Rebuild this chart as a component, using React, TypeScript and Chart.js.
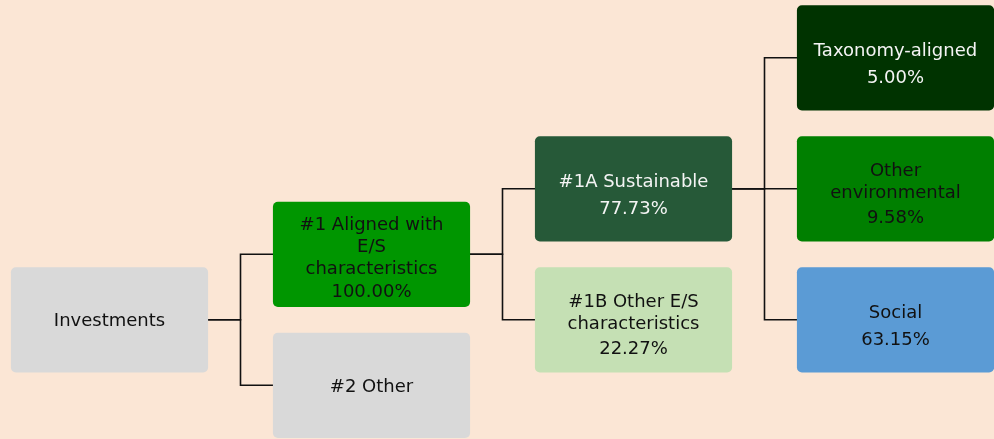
import React, { useEffect, useRef } from "react";
import { Chart, registerables } from "chart.js";

Chart.register(...registerables);

// ---- Data ----
const nodeLabels: string[][] = [
  ["Investments"],
  ["#1 Aligned with", "E/S", "characteristics"],
  ["#2 Other"],
  ["#1A Sustainable"],
  ["#1B Other E/S", "characteristics"],
  ["Taxonomy-aligned"],
  ["Other", "environmental"],
  ["Social"],
];
const nodeShares: (number | null)[] = [null, 100.0, null, 77.73, 22.27, 5.0, 9.58, 63.15];
const nodeLevels: number[] = [0, 1, 1, 2, 2, 3, 3, 3];
const nodeRows: number[] = [2, 1.5, 2.5, 1, 2, 0, 1, 2];
const nodeParents: number[] = [-1, 0, 0, 1, 1, 3, 3, 3];
const nodeColors: string[] = [
  "#d9d9d9",
  "#009600",
  "#d9d9d9",
  "#265938",
  "#c5e0b4",
  "#003300",
  "#007f00",
  "#5b9bd5",
];
const nodeTextColors: string[] = [
  "#111111",
  "#111111",
  "#111111",
  "#f4f4f4",
  "#111111",
  "#f4f4f4",
  "#111111",
  "#111111",
];

// ---- Layout constants (styles) ----
const W = 994;
const H = 439;
const BG = "#fbe6d5";
const HALF_W = 0.375; // box half width in level units
const COL_PITCH = 262;
const COL0 = 109.5;
const ROW_PITCH = 131;
const ROW0 = 57.8;
const BOX_H = 104.5;

export default function App() {
  const ref = useRef<HTMLCanvasElement | null>(null);

  useEffect(() => {
    document.body.style.margin = "0";
    document.body.style.background = BG;
    const canvas = ref.current;
    if (!canvas) return;

    const boxData = nodeLevels.map((lv, i) => ({
      x: [lv - HALF_W, lv + HALF_W],
      y: nodeRows[i],
    }));

    const edgeSets = nodeParents
      .map((p, i) => ({ p, i }))
      .filter((e) => e.p >= 0)
      .map(({ p, i }) => {
        const px = nodeLevels[p] + HALF_W;
        const mid = (nodeLevels[p] + nodeLevels[i]) / 2;
        const cx = nodeLevels[i] - HALF_W;
        return {
          type: "line" as const,
          data: [
            { x: px, y: nodeRows[p] },
            { x: mid, y: nodeRows[p] },
            { x: mid, y: nodeRows[i] },
            { x: cx, y: nodeRows[i] },
          ],
          borderColor: "#111111",
          borderWidth: 1.6,
          pointRadius: 0,
          fill: false,
          tension: 0,
          xAxisID: "x",
          yAxisID: "y",
        };
      });

    const bgPlugin = {
      id: "bg",
      beforeDraw(chart: any) {
        const c = chart.ctx;
        c.save();
        c.fillStyle = BG;
        c.fillRect(0, 0, chart.width, chart.height);
        c.restore();
      },
    };

    const textPlugin = {
      id: "nodeText",
      afterDatasetsDraw(chart: any) {
        const meta = chart.getDatasetMeta(0);
        const c = chart.ctx;
        c.save();
        c.font = '18px "DejaVu Sans"';
        c.textAlign = "center";
        c.textBaseline = "alphabetic";
        meta.data.forEach((el: any, i: number) => {
          const pt = el.getCenterPoint();
          const cx = pt.x;
          const cy = pt.y;
          const labels = nodeLabels[i];
          const share = nodeShares[i];
          const lines = share === null ? labels.slice() : [...labels, share.toFixed(2) + "%"];
          const n = lines.length;
          c.fillStyle = nodeTextColors[i];
          if (n === 1) {
            c.fillText(lines[0], cx, cy + 6.3);
            return;
          }
          labels.forEach((t, k) => {
            c.fillText(t, cx, cy + 8.7 - 11 * (n - 1) + 22 * k);
          });
          if (share !== null) {
            c.fillText(lines[n - 1], cx, cy + 25.5 + 8.75 * (n - 2));
          }
        });
        c.restore();
      },
    };

    const chart = new Chart(canvas, {
      type: "bar",
      data: {
        datasets: [
          {
            type: "bar",
            indexAxis: "y",
            data: boxData as any,
            backgroundColor: nodeColors,
            borderWidth: 0,
            borderRadius: 5,
            borderSkipped: false,
            barThickness: BOX_H,
            xAxisID: "x",
            yAxisID: "y",
          } as any,
          ...(edgeSets as any[]),
        ],
      },
      options: {
        responsive: false,
        animation: false,
        devicePixelRatio: 1,
        events: [],
        layout: { padding: 0 },
        plugins: {
          legend: { display: false },
          tooltip: { enabled: false },
        },
        scales: {
          x: {
            type: "linear",
            display: false,
            offset: false,
            grace: 0,
            grid: { offset: false },
            min: -COL0 / COL_PITCH,
            max: (W - COL0) / COL_PITCH,
          },
          y: {
            type: "linear",
            display: false,
            offset: false,
            grace: 0,
            grid: { offset: false },
            reverse: true,
            min: -ROW0 / ROW_PITCH,
            max: (H - ROW0) / ROW_PITCH,
          },
        },
      } as any,
      plugins: [bgPlugin, textPlugin],
    });

    return () => chart.destroy();
  }, []);

  return (
    <div style={{ width: W, height: H, background: BG }}>
      <canvas ref={ref} width={W} height={H} style={{ display: "block" }} />
    </div>
  );
}
